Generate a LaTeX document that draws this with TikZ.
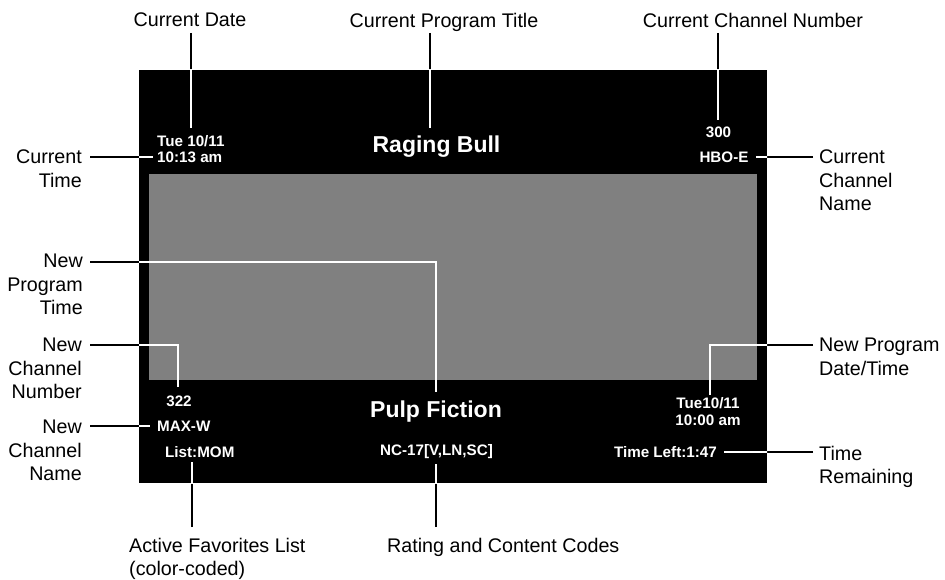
\documentclass[tikz,border=0pt]{standalone}
\usepackage{fontspec}
\setmainfont{Liberation Sans}
\tikzset{
  lbl/.style={inner sep=0pt, font=\fontsize{19.7}{23.5}\selectfont, text=black},
  osd/.style={inner sep=0pt, font=\fontsize{15.2}{16.5}\selectfont\bfseries, text=white},
  ttl/.style={inner sep=0pt, font=\fontsize{23}{26}\selectfont\bfseries, text=white},
  blk/.style={draw=black, line width=2.5pt},
  wht/.style={draw=white, line width=2.3pt},
}
\newcommand\callout[1]{%
  \draw[blk] #1;
  \begin{scope}
    \clip (139,70) rectangle (767,483);
    \draw[wht] #1;
  \end{scope}}
\begin{document}
\begin{tikzpicture}[x=1pt,y=-1pt]
\useasboundingbox (0,0) rectangle (945,580);
% screen
\node[fill=black, inner sep=0pt, minimum width=628pt, minimum height=413pt, anchor=north west] (scr) at (139,70) {};
\node[fill=black!50, inner sep=0pt, minimum width=608pt, minimum height=206pt, anchor=north west] (pic) at (149,174) {};

% outside labels
\node[lbl, anchor=north] (lDate) at (190,13) {Current Date};
\node[lbl, anchor=north] (lTitle) at (444,13) {Current Program Title};
\node[lbl, anchor=north] (lChNum) at (753,13) {Current Channel Number};
\node[lbl, anchor=north east, align=right] (lTime) at (82,150) {Current\\Time};
\node[lbl, anchor=north west, align=left] (lChName) at (819,150) {Current\\Channel\\Name};
\node[lbl, anchor=north east, align=right] (lNPT) at (83,254) {New\\Program\\Time};
\node[lbl, anchor=north east, align=right] (lNCN) at (82,338) {New\\Channel\\Number};
\node[lbl, anchor=north east, align=right] (lNCName) at (82,420) {New\\Channel\\Name};
\node[lbl, anchor=north west, align=left] (lNPD) at (819,338) {New Program\\Date/Time};
\node[lbl, anchor=north west, align=left] (lRem) at (819,446) {Time\\Remaining};
\node[lbl, anchor=north west, align=left] (lFav) at (129,538) {Active Favorites List\\(color-coded)};
\node[lbl, anchor=north west] (lRate) at (387,538) {Rating and Content Codes};

% on-screen texts
\node[osd, anchor=west, align=left] (vDate) at (157,149) {Tue 10/11\\10:13 am};
\node[ttl] (vTitle) at (436.5,147) {Raging Bull};
\node[osd] (vChNum) at (718.5,132) {300};
\node[osd] (vChName) at (724,157) {HBO-E};
\node[osd] (vNCN) at (179,401) {322};
\node[osd, anchor=west] (vNCName) at (157,426) {MAX-W};
\node[osd, anchor=west] (vFav) at (165,452) {List:MOM};
\node[ttl] (vNTitle) at (436,412) {Pulp Fiction};
\node[osd] (vRate) at (436.5,452) {NC-17[V,LN,SC]};
\node[osd, align=center] (vNPD) at (708,411.5) {Tue10/11\\10:00 am};
\node[osd, anchor=east] (vRem) at (717,452) {Time Left:1:47};

% connector end points
\coordinate (cDateA) at (191,33);   \coordinate (cDateB) at (191,128);
\coordinate (cTitA) at (430,33);    \coordinate (cTitB) at (430,128);
\coordinate (cChA) at (718,33);     \coordinate (cChB) at (718,120);
\coordinate (cTimA) at (90,157);    \coordinate (cTimB) at (153,157);
\coordinate (cChnA) at (813,157);   \coordinate (cChnB) at (756,157);
\coordinate (cNptA) at (90,262);    \coordinate (cNptK) at (436,262);  \coordinate (cNptB) at (436,392);
\coordinate (cNcnA) at (90,345);    \coordinate (cNcnK) at (178,345);  \coordinate (cNcnB) at (178,387);
\coordinate (cNcmA) at (90,426);    \coordinate (cNcmB) at (150,426);
\coordinate (cNpdA) at (813,345);   \coordinate (cNpdK) at (710,345);  \coordinate (cNpdB) at (710,395);
\coordinate (cRemA) at (813,452);   \coordinate (cRemB) at (724,452);
\coordinate (cFavA) at (192,527);   \coordinate (cFavB) at (192,462);
\coordinate (cRatA) at (436,527);   \coordinate (cRatB) at (436,464);

\callout{(cDateA) -- (cDateB)}
\callout{(cTitA) -- (cTitB)}
\callout{(cChA) -- (cChB)}
\callout{(cTimA) -- (cTimB)}
\callout{(cChnA) -- (cChnB)}
\callout{(cNptA) -- (cNptK) -- (cNptB)}
\callout{(cNcnA) -- (cNcnK) -- (cNcnB)}
\callout{(cNcmA) -- (cNcmB)}
\callout{(cNpdA) -- (cNpdK) -- (cNpdB)}
\callout{(cRemA) -- (cRemB)}
\callout{(cFavA) -- (cFavB)}
\callout{(cRatA) -- (cRatB)}
\end{tikzpicture}
\end{document}
